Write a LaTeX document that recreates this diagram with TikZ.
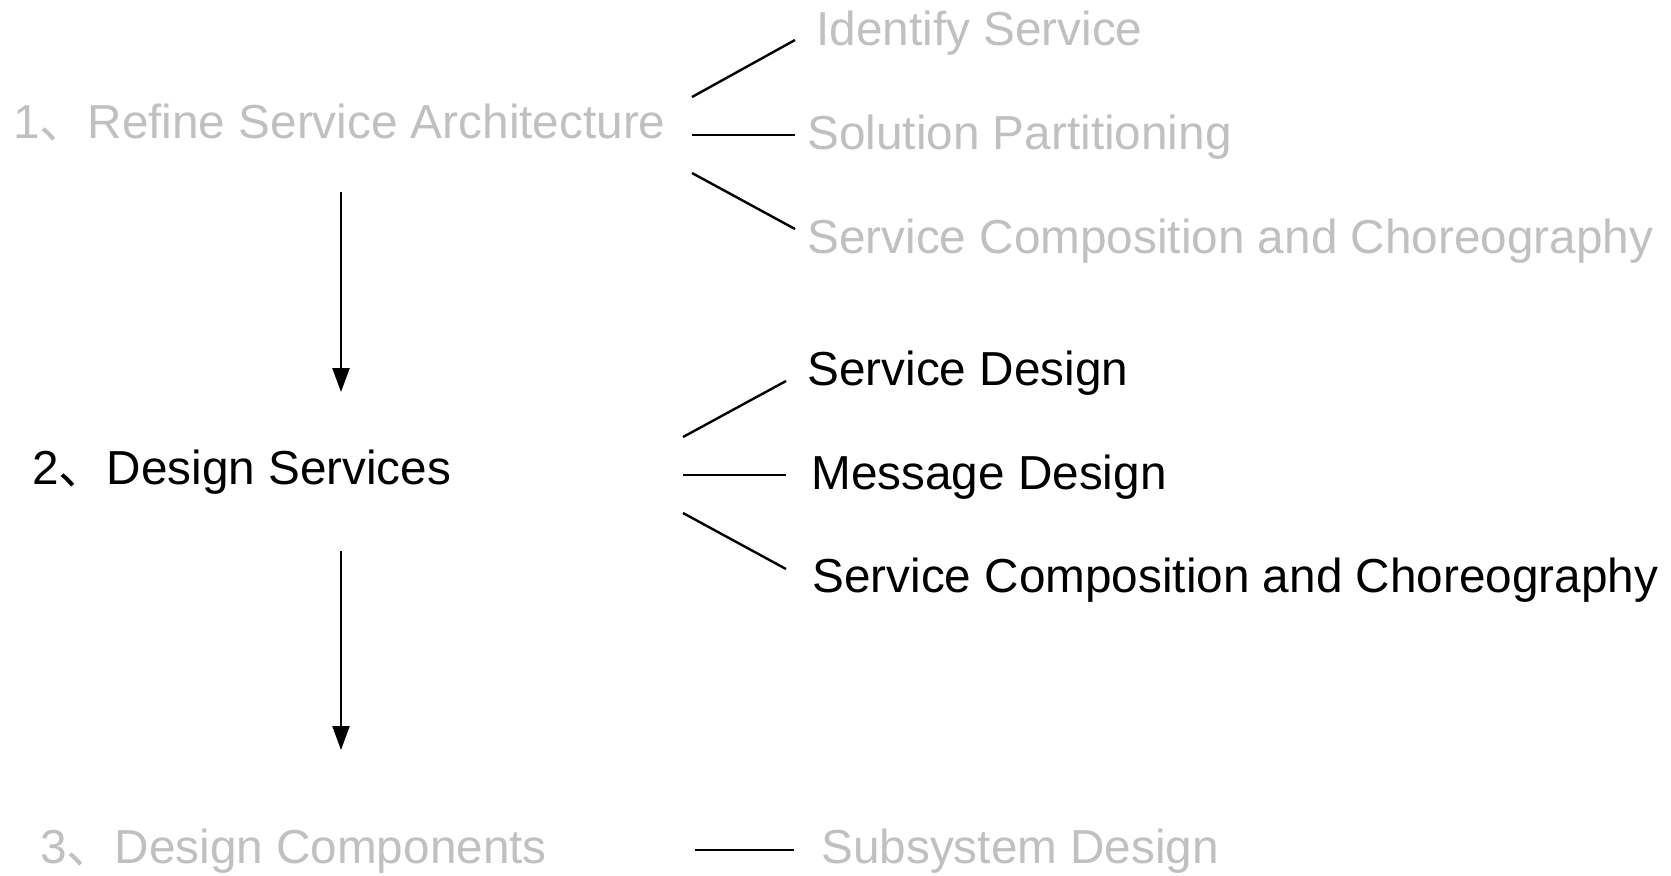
\documentclass[tikz,border=0pt]{standalone}
\usepackage{fontspec}
\setmainfont{Liberation Sans}
\newfontfamily\cjk{Noto Sans CJK SC}
\usetikzlibrary{arrows.meta}
\definecolor{lightgr}{RGB}{192,192,192}
\tikzset{
  txt/.style={anchor=base west, inner sep=0pt, font=\fontsize{23.85pt}{28pt}\selectfont},
  faded/.style={txt, text=lightgr},
  active/.style={txt, text=black},
  branch/.style={draw=black, line width=1.2pt},
  flow/.style={draw=black, line width=1.2pt, -{Triangle[width=8.5pt,length=12pt]}}
}
\begin{document}
\begin{tikzpicture}[x=0.5pt, y=-0.5pt]
\useasboundingbox (0,0) rectangle (1671,875);
% main steps
\node[faded] (s1) at (13,138) {1{\cjk 、}Refine Service Architecture};
\node[active] (s2) at (32,484) {2{\cjk 、}Design Services};
\node[faded] (s3) at (40,863) {3{\cjk 、}Design Components};
% sub items of step 1
\node[faded] (i1) at (816,45) {Identify Service};
\node[faded] (i2) at (807,149) {Solution Partitioning};
\node[faded] (i3) at (807,253) {Service Composition and Choreography};
% sub items of step 2
\node[active] (d1) at (807,385) {Service Design};
\node[active] (d2) at (811,489) {Message Design};
\node[active] (d3) at (812,592) {Service Composition and Choreography};
% sub item of step 3
\node[faded] (c1) at (821,863) {Subsystem Design};
% branch end points
\coordinate (b1a) at (692,97);  \coordinate (b1b) at (795,40);
\coordinate (b2a) at (692,135); \coordinate (b2b) at (795,135);
\coordinate (b3a) at (692,173); \coordinate (b3b) at (795,229);
\coordinate (e1a) at (683,437); \coordinate (e1b) at (786,381);
\coordinate (e2a) at (683,475); \coordinate (e2b) at (786,475);
\coordinate (e3a) at (683,513); \coordinate (e3b) at (786,569);
\coordinate (f1a) at (695,850); \coordinate (f1b) at (794,850);
\draw[branch] (b1a) -- (b1b);
\draw[branch] (b2a) -- (b2b);
\draw[branch] (b3a) -- (b3b);
\draw[branch] (e1a) -- (e1b);
\draw[branch] (e2a) -- (e2b);
\draw[branch] (e3a) -- (e3b);
\draw[branch] (f1a) -- (f1b);
% flow arrows
\coordinate (a1s) at (341,192); \coordinate (a1e) at (341,392);
\coordinate (a2s) at (341,551); \coordinate (a2e) at (341,750);
\draw[flow] (a1s) -- (a1e);
\draw[flow] (a2s) -- (a2e);
\end{tikzpicture}
\end{document}
